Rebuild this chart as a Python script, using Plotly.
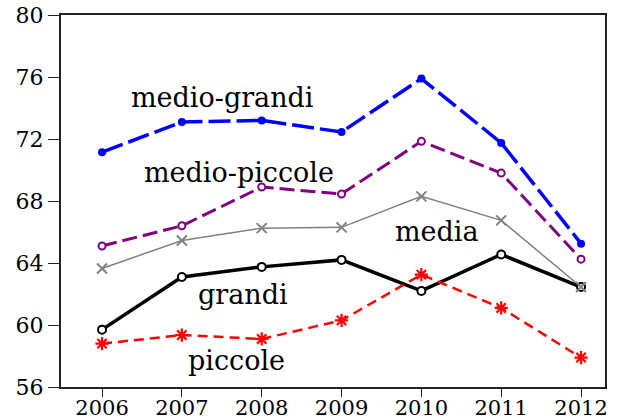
import plotly.graph_objects as go

years = [2006, 2007, 2008, 2009, 2010, 2011, 2012]

medio_grandi = [71.15, 73.1, 73.2, 72.45, 75.9, 71.75, 65.25]
medio_piccole = [65.1, 66.4, 68.9, 68.45, 71.85, 69.8, 64.25]
media = [63.65, 65.45, 66.25, 66.3, 68.3, 66.75, 62.45]
grandi = [59.7, 63.1, 63.75, 64.2, 62.2, 64.55, 62.45]
piccole = [58.8, 59.35, 59.1, 60.3, 63.25, 61.1, 57.9]

y_ticks = [56, 60, 64, 68, 72, 76, 80]

SERIF = "DejaVu Serif"

fig = go.Figure()

# thick black solid line with open circles
fig.add_trace(go.Scatter(
    x=years, y=grandi, mode="lines+markers", name="grandi",
    line=dict(color="black", width=3.5),
    marker=dict(symbol="circle", size=8, color="white",
                line=dict(color="black", width=2)),
))
# red dashed line with asterisks
fig.add_trace(go.Scatter(
    x=years, y=piccole, mode="lines+markers", name="piccole",
    line=dict(color="#ff0000", width=2.5, dash="10px,6px"),
    marker=dict(symbol="asterisk-open", size=11,
                line=dict(color="#ff0000", width=2.2)),
))
# thin grey line with crosses
fig.add_trace(go.Scatter(
    x=years, y=media, mode="lines+markers", name="media",
    line=dict(color="#808080", width=1.5),
    marker=dict(symbol="x-thin-open", size=10,
                line=dict(color="#808080", width=2)),
))
# purple dashed line with open circles
fig.add_trace(go.Scatter(
    x=years, y=medio_piccole, mode="lines+markers", name="medio-piccole",
    line=dict(color="#800080", width=3, dash="15px,6px"),
    marker=dict(symbol="circle", size=7, color="white",
                line=dict(color="#800080", width=2)),
))
# blue long-dashed line with filled circles
fig.add_trace(go.Scatter(
    x=years, y=medio_grandi, mode="lines+markers", name="medio-grandi",
    line=dict(color="#0000ff", width=3.5, dash="22px,6px"),
    marker=dict(symbol="circle", size=8, color="#0000ff"),
))

labels = [
    ("medio-grandi", 2007.515, 74.65),
    ("medio-piccole", 2007.716, 69.87),
    ("media", 2010.19, 66.06),
    ("grandi", 2007.77, 61.94),
    ("piccole", 2007.68, 57.68),
]
for text, lx, ly in labels:
    fig.add_annotation(x=lx, y=ly, text=text, showarrow=False,
                       xanchor="center", yanchor="middle",
                       font=dict(family=SERIF, size=27, color="black"))

axis_common = dict(
    showline=True, linecolor="#222222", linewidth=2, mirror=True,
    showgrid=False, zeroline=False, ticks="outside",
    tickcolor="#222222", tickwidth=1, automargin=False,
)

fig.update_xaxes(range=[2005.486, 2012.30], tickvals=years,
                 ticktext=[str(y) for y in years], ticklen=8,
                 ticklabelstandoff=-7,
                 tickfont=dict(family=SERIF, size=21, color="black"),
                 **axis_common)
fig.update_yaxes(range=[56, 80], tickvals=y_ticks, ticklen=11,
                 tickfont=dict(family=SERIF, size=22, color="black"),
                 **axis_common)

fig.update_layout(
    width=620, height=419,
    margin=dict(l=61, r=15, t=15, b=32),
    paper_bgcolor="white", plot_bgcolor="white",
    showlegend=False,
)

fig.write_html("out.html")
